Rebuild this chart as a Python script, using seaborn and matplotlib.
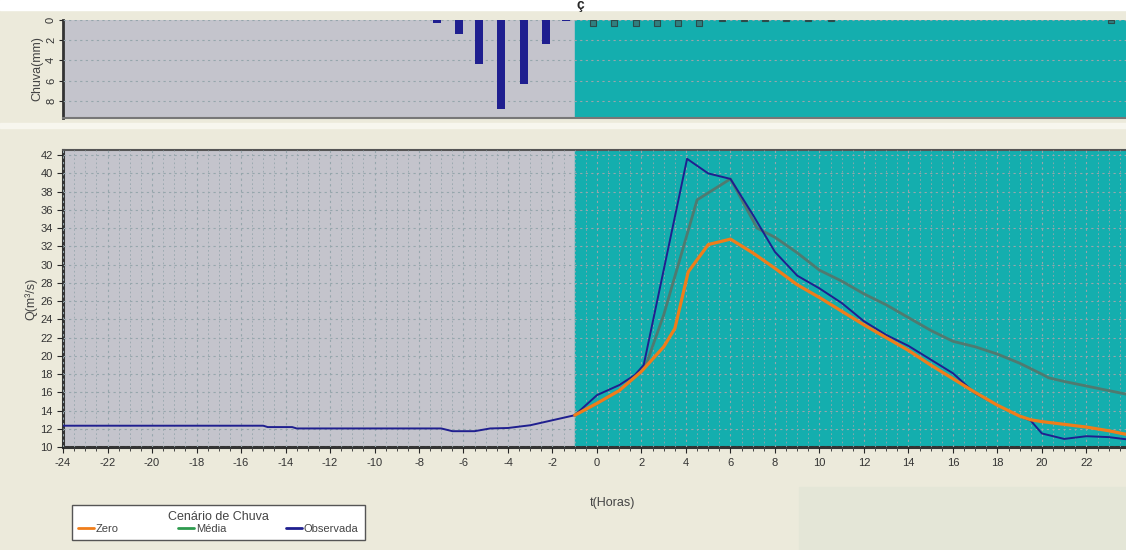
import numpy as np
import pandas as pd
import seaborn as sns
import matplotlib.pyplot as plt
from matplotlib.lines import Line2D
from matplotlib.patches import Rectangle
from matplotlib.ticker import MultipleLocator

# ---- data ----
# observed rain (mm) and forecast rain marks, top panel
rain_obs_t = [-7.2, -6.2, -5.3, -4.3, -3.3, -2.3, -1.4]
rain_obs_mm = [0.3, 1.4, 4.4, 8.8, 6.3, 2.4, 0.15]
rain_prev_t = [-0.2, 0.75, 1.75, 2.7, 3.65, 4.6, 5.6, 6.6, 7.55, 8.5, 9.5, 10.5, 23.1]
rain_prev_mm = [0.6, 0.6, 0.6, 0.6, 0.6, 0.6, 0.15, 0.15, 0.15, 0.15, 0.15, 0.15, 0.3]

# discharge Q (m3/s)
t_obs = [-24, -15, -14.8, -13.7, -13.5, -7, -6.5, -5.5, -4.8, -4, -3, -2, -1,
         0, 1, 1.7, 2.1, 4.05, 5, 6, 7, 8, 9, 10, 11, 12, 13, 14, 15, 16, 17,
         18, 19, 19.5, 20, 21, 22, 23, 24]
q_obs = [12.35, 12.35, 12.2, 12.2, 12.05, 12.05, 11.75, 11.75, 12.05, 12.1, 12.4, 12.95, 13.5,
         15.7, 16.8, 17.9, 19.0, 41.6, 40.0, 39.4, 35.5, 31.4, 28.8, 27.4, 25.8, 23.8, 22.3, 21.1,
         19.6, 18.1, 15.9, 14.6, 13.4, 12.9, 11.5, 10.9, 11.2, 11.1, 10.8]

t_zero = [-1, 0, 1, 2, 3, 3.5, 4.1, 5, 6, 7, 8, 9, 10, 11, 12, 13, 14, 15, 16, 17,
          18, 19, 19.5, 20, 21, 22, 23, 24]
q_zero = [13.5, 14.8, 16.2, 18.3, 21.0, 23.0, 29.2, 32.2, 32.8, 31.3, 29.6, 27.8, 26.4, 24.9,
          23.4, 22.0, 20.6, 19.0, 17.5, 16.0, 14.6, 13.4, 13.0, 12.8, 12.5, 12.2, 11.8, 11.3]

t_media = [-1, 0, 1, 2, 2.2, 3, 4.5, 6, 7.2, 8, 9, 10, 11, 12, 13, 14, 15, 16, 17,
           18, 19, 20, 20.3, 21, 22, 23, 24]
q_media = [13.5, 14.8, 16.2, 18.3, 19.0, 24.5, 37.1, 39.4, 34.0, 33.0, 31.3, 29.4, 28.2, 26.8,
           25.6, 24.2, 22.8, 21.6, 21.0, 20.2, 19.2, 18.0, 17.6, 17.2, 16.7, 16.2, 15.7]

df = pd.concat([
    pd.DataFrame({'t': t_media, 'Q': q_media, 'cenario': 'Média'}),
    pd.DataFrame({'t': t_obs, 'Q': q_obs, 'cenario': 'Observada'}),
    pd.DataFrame({'t': t_zero, 'Q': q_zero, 'cenario': 'Zero'}),
])

gray_bg = '#c4c4cc'
teal = '#14aeae'
navy = '#1f1f8f'
orange = '#f07d1a'
media_line = '#4f7a70'
cream = '#eceadb'
grid_c = '#96a6ac'

sns.set_style('white')
plt.rcParams['font.family'] = ['Liberation Sans', 'DejaVu Sans']
plt.rcParams['axes.unicode_minus'] = False

fig = plt.figure(figsize=(11.26, 5.5), dpi=100, facecolor=cream)
fig.patches.append(Rectangle((0, 0.982), 1, 0.018, transform=fig.transFigure, color='white', zorder=0))
fig.patches.append(Rectangle((0, 0.768), 1, 0.008, transform=fig.transFigure, color='#f7f6ee', zorder=0))
fig.patches.append(Rectangle((0.71, 0), 0.29, 0.115, transform=fig.transFigure, color='#e4e6d7', zorder=0))

ax_top = fig.add_axes([0.056, 0.7855, 0.944, 0.1785])
ax = fig.add_axes([0.056, 0.187, 0.944, 0.540])

xlim = (-24, 23.78)

# ---- top panel: rain ----
ax_top.set_facecolor(gray_bg)
ax_top.axvspan(-1, 30, color=teal, zorder=0.5)
ax_top.bar(rain_obs_t, rain_obs_mm, width=0.36, color=navy, linewidth=0, zorder=3)
ax_top.bar(rain_prev_t, rain_prev_mm, width=0.27, color='#2f8080', edgecolor='#2d4a4a',
           linewidth=0.8, zorder=3)
ax_top.set_xlim(*xlim)
ax_top.set_ylim(9.7, 0)
ax_top.set_yticks([0, 2, 4, 6, 8])
ax_top.set_xticks([])
ax_top.grid(axis='y', color=grid_c, linestyle=(0, (2, 3)), linewidth=0.8, zorder=1)
ax_top.set_axisbelow(False)
ax_top.tick_params(axis='y', labelsize=8, labelcolor='#333333', length=3, width=0.8,
                   pad=2, labelrotation=90, direction='out', left=True)
for lab in ax_top.get_yticklabels():
    lab.set_va('center')
ax_top.set_ylabel('Chuva(mm)', fontsize=9, color='#444444', labelpad=2)
for s in ['top', 'right']:
    ax_top.spines[s].set_visible(False)
ax_top.spines['left'].set_linewidth(2)
ax_top.spines['left'].set_color('#333333')
ax_top.spines['bottom'].set_linewidth(1.5)
ax_top.spines['bottom'].set_color('#777777')

# ---- main panel: discharge ----
ax.set_facecolor(gray_bg)
ax.axvspan(-1, 30, color=teal, zorder=0.5)
ax.xaxis.set_major_locator(MultipleLocator(2))
ax.xaxis.set_minor_locator(MultipleLocator(0.5))
ax.yaxis.set_major_locator(MultipleLocator(2))
ax.grid(which='major', color=grid_c, linestyle=(0, (2, 3)), linewidth=0.8, zorder=1)
ax.xaxis.grid(which='minor', color=grid_c, linestyle=(0, (2, 3)), linewidth=0.6)
ax.set_axisbelow(False)

palette = {'Média': media_line, 'Observada': navy, 'Zero': orange}
sizes = {'Média': 2.0, 'Observada': 1.4, 'Zero': 2.3}
sns.lineplot(data=df, x='t', y='Q', hue='cenario', size='cenario', sizes=sizes,
             palette=palette, hue_order=['Média', 'Observada', 'Zero'],
             sort=False, estimator=None, legend=False, ax=ax, zorder=4)

ax.set_xlim(*xlim)
ax.set_ylim(10, 42.55)
ax.set_xlabel('')
ax.set_ylabel('Q(m³/s)', fontsize=9, color='#444444', labelpad=2)
ax.tick_params(axis='both', which='major', labelsize=8, labelcolor='#333333',
               length=4, width=0.8, direction='out', bottom=True, left=True)
ax.tick_params(axis='x', which='minor', length=3, width=0.7, color='#444444',
               direction='out', bottom=True)
ax.spines['right'].set_visible(False)
ax.spines['top'].set_color('#555555')
ax.spines['top'].set_linewidth(1.5)
ax.spines['left'].set_linewidth(2.2)
ax.spines['left'].set_color('#333333')
ax.spines['bottom'].set_linewidth(2.2)
ax.spines['bottom'].set_color('#333333')

fig.text(0.5435, 0.086, 't(Horas)', fontsize=9, color='#444444', ha='center', va='center')
fig.text(0.515, 0.99, 'ç', fontsize=10, fontweight='bold', ha='center', va='center')

handles = [Line2D([], [], color=orange, lw=2),
           Line2D([], [], color='#2e9a4e', lw=2),
           Line2D([], [], color=navy, lw=2)]
leg = fig.legend(handles, ['Zero', 'Média', 'Observada'], title='Cenário de Chuva',
                 ncol=3, loc='lower left', bbox_to_anchor=(0.064, 0.018, 0.26, 0.077),
                 mode='expand', frameon=True, fancybox=False, framealpha=1,
                 edgecolor='#555555', facecolor='white', fontsize=8, title_fontsize=9,
                 handlelength=1.4, handletextpad=0.2, borderpad=0.55, labelspacing=0.1,
                 borderaxespad=0)
leg.get_title().set_color('#444444')
for txt in leg.get_texts():
    txt.set_color('#444444')

plt.savefig('out.png', dpi=100, facecolor=cream)
